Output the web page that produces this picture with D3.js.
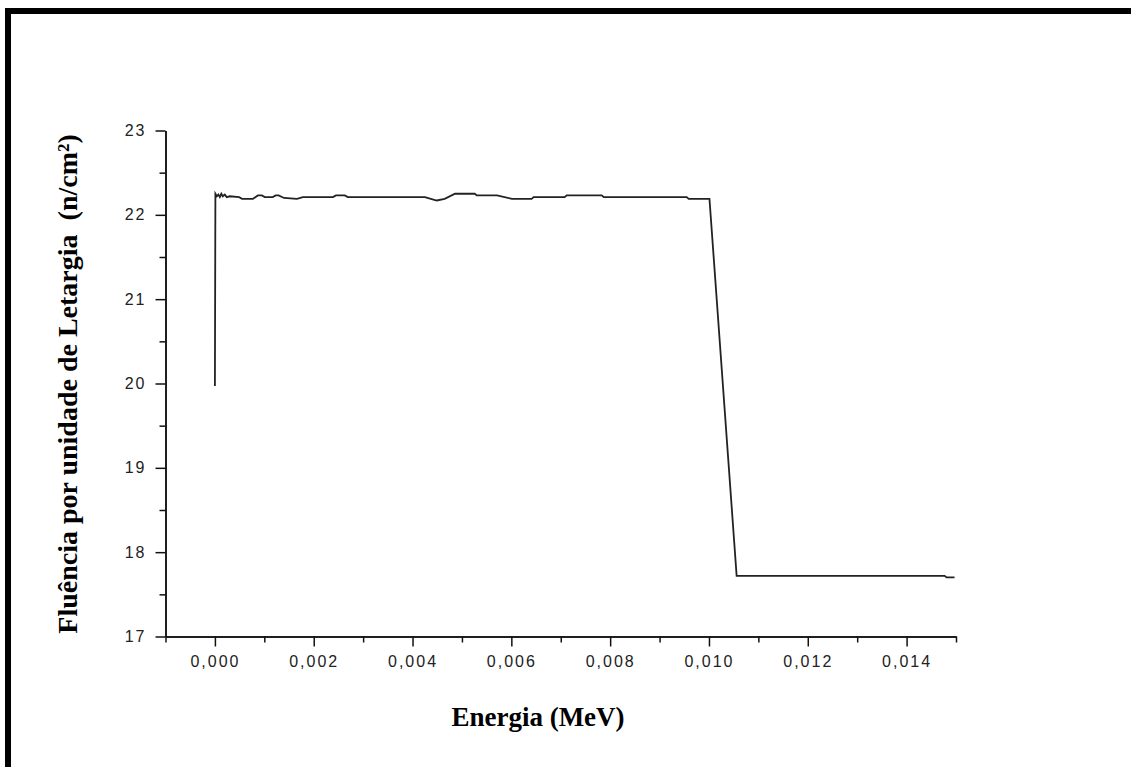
<!DOCTYPE html>
<html>
<head>
<meta charset="utf-8">
<script src="https://cdn.jsdelivr.net/npm/d3@7"></script>
<style>
  html, body { margin: 0; padding: 0; background: #fff; }
  svg { display: block; }
  .tick text { font-family: "Liberation Sans", Arial, sans-serif; font-size: 16px; letter-spacing: 2px; fill: #222; }
  .title { font-family: "Liberation Serif", "Times New Roman", serif; font-weight: bold; fill: #000; }
</style>
</head>
<body>
<div id="chart"></div>
<script>
// Energy (MeV) and fluence per unit lethargy (n/cm2)
var energia = [0, 0.00001, 0.00004, 0.00007, 0.0001, 0.00013, 0.00016, 0.0002, 0.00024, 0.0003,
  0.00049, 0.00055, 0.00077, 0.00087, 0.00095, 0.00101, 0.00117, 0.00123, 0.00129, 0.0014,
  0.00166, 0.00178, 0.00239, 0.00245, 0.00263, 0.00269, 0.00425, 0.00449, 0.00465, 0.00486,
  0.00526, 0.0053, 0.00571, 0.00601, 0.00641, 0.00645, 0.00708, 0.00712, 0.00783, 0.00787,
  0.00955, 0.00959, 0.01001, 0.01056, 0.01477, 0.01481, 0.01497];
var fluencia = [19.97, 22.25, 22.22, 22.24, 22.21, 22.25, 22.22, 22.24, 22.21, 22.22,
  22.21, 22.19, 22.19, 22.23, 22.23, 22.21, 22.21, 22.23, 22.23, 22.20,
  22.19, 22.21, 22.21, 22.23, 22.23, 22.21, 22.21, 22.17, 22.19, 22.25,
  22.25, 22.23, 22.23, 22.19, 22.19, 22.21, 22.21, 22.23, 22.23, 22.21,
  22.21, 22.19, 22.19, 17.72, 17.72, 17.70, 17.70];

var xMajor = [0, 0.002, 0.004, 0.006, 0.008, 0.010, 0.012, 0.014];
var xMinor = [-0.001, 0.001, 0.003, 0.005, 0.007, 0.009, 0.011, 0.013, 0.015];
var yMajor = [17, 18, 19, 20, 21, 22, 23];
var yMinor = [17.5, 18.5, 19.5, 20.5, 21.5, 22.5];

var width = 1131, height = 767;

var svg = d3.select("#chart").append("svg")
  .attr("width", width)
  .attr("height", height);

// thick frame, only top and left edges fall inside the window
svg.append("rect")
  .attr("x", 8).attr("y", 11)
  .attr("width", 1300).attr("height", 1000)
  .attr("fill", "none")
  .attr("stroke", "#000")
  .attr("stroke-width", 6);

var x = d3.scaleLinear().domain([-0.001, 0.015]).range([165.5, 956]);
var y = d3.scaleLinear().domain([17, 23]).range([636.5, 130.5]);

var fmt = function(d) { return d3.format(".3f")(d).replace(".", ","); };

// x axis: major ticks with labels, minor ticks without
svg.append("g")
  .attr("transform", "translate(0," + y(17) + ")")
  .call(d3.axisBottom(x).tickValues(xMajor).tickFormat(fmt).tickSize(10).tickPadding(9).tickSizeOuter(0));
svg.append("g")
  .attr("transform", "translate(0," + y(17) + ")")
  .call(d3.axisBottom(x).tickValues(xMinor).tickFormat("").tickSize(6).tickSizeOuter(0));

// y axis
svg.append("g")
  .attr("transform", "translate(" + x(-0.001) + ",0)")
  .call(d3.axisLeft(y).tickValues(yMajor).tickFormat(d3.format("d")).tickSize(10).tickPadding(9).tickSizeOuter(0));
svg.append("g")
  .attr("transform", "translate(" + x(-0.001) + ",0)")
  .call(d3.axisLeft(y).tickValues(yMinor).tickFormat("").tickSize(6).tickSizeOuter(0));

svg.selectAll(".domain, .tick line")
  .attr("stroke", "#111")
  .attr("stroke-width", 1.5);

// data line
var pts = energia.map(function(e, i) { return [e, fluencia[i]]; });
svg.append("path")
  .datum(pts)
  .attr("fill", "none")
  .attr("stroke", "#222")
  .attr("stroke-width", 1.8)
  .attr("d", d3.line().x(function(d) { return x(d[0]); }).y(function(d) { return y(d[1]); }));

// axis titles
svg.append("text")
  .attr("class", "title")
  .attr("x", 538).attr("y", 726)
  .attr("text-anchor", "middle")
  .style("font-size", "27px")
  .text("Energia (MeV)");

svg.append("text")
  .attr("class", "title")
  .attr("transform", "translate(77,384) rotate(-90)")
  .attr("text-anchor", "middle")
  .style("font-size", "28px")
  .style("white-space", "pre")
  .text("Fluência por unidade de Letargia  (n/cm²)");
</script>
</body>
</html>
